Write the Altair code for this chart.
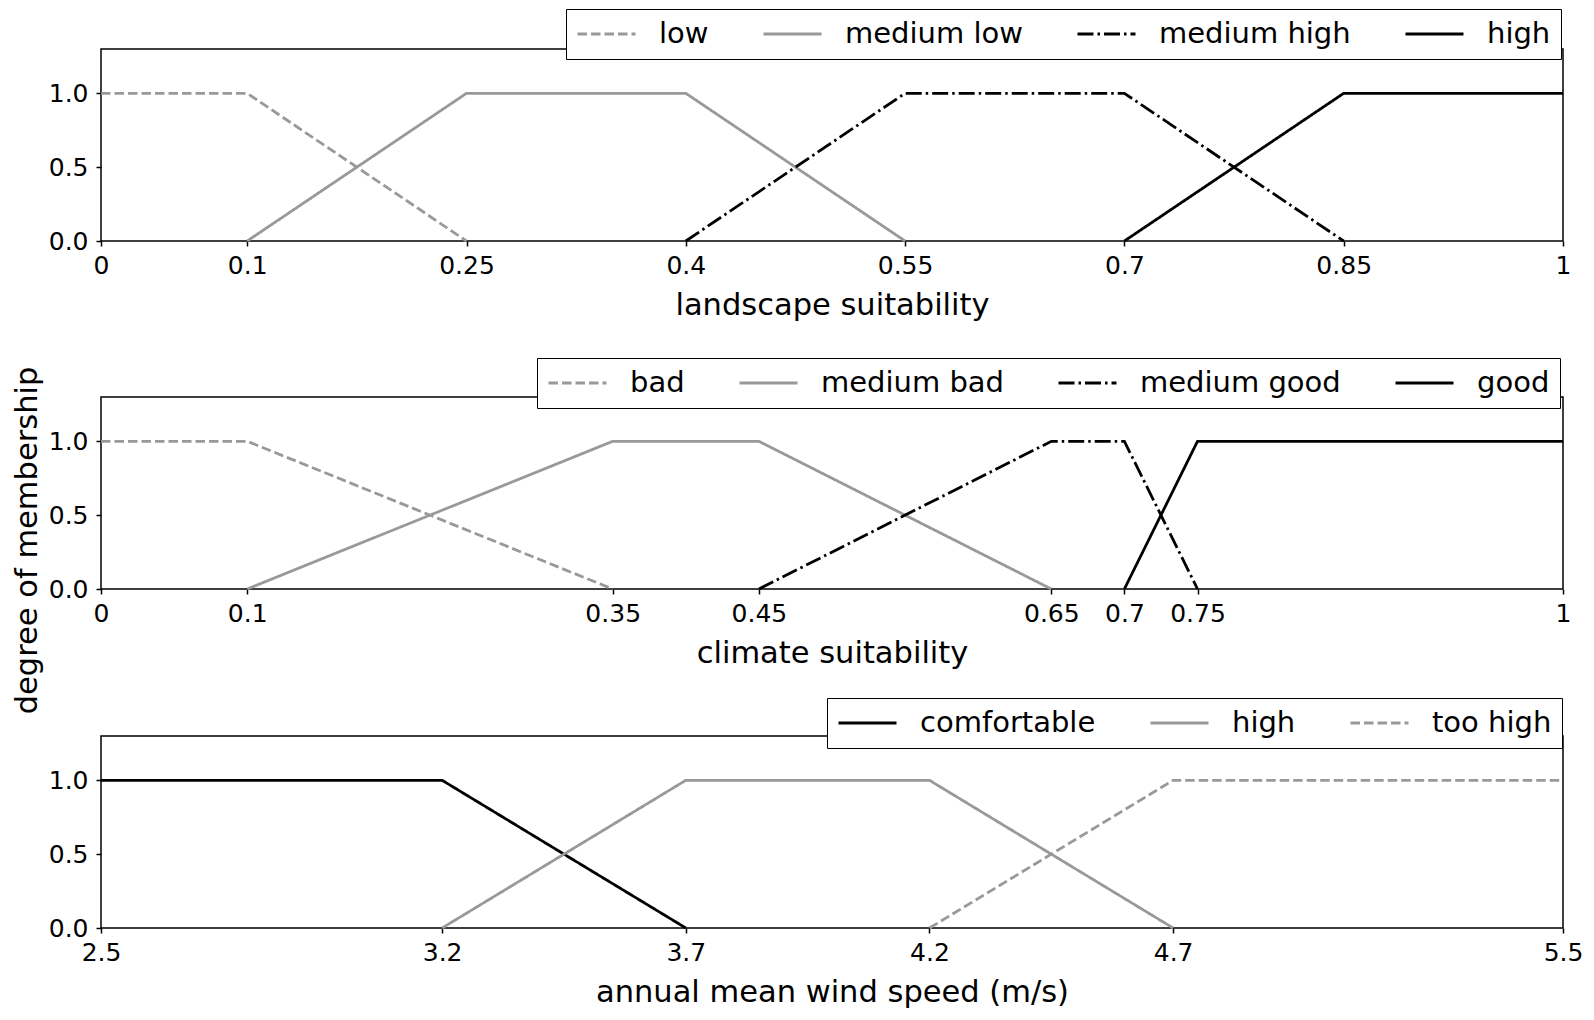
import altair as alt
import pandas as pd

FONT = "DejaVu Sans"
GRAY = "#999999"
BLACK = "#000000"
DASHED = [9.5, 4]
SOLID = [1, 0]
DASHDOT = [16, 4, 2.5, 4]

W = 1462
H = 192

# ---- panel 1: landscape suitability ----
land_names = ["low", "medium low", "medium high", "high"]
land_low_x = [0, 0.1, 0.25]
land_low_y = [1, 1, 0]
land_mlow_x = [0.1, 0.25, 0.4, 0.55]
land_mlow_y = [0, 1, 1, 0]
land_mhigh_x = [0.4, 0.55, 0.7, 0.85]
land_mhigh_y = [0, 1, 1, 0]
land_high_x = [0.7, 0.85, 1]
land_high_y = [0, 1, 1]
land_ticks = [0, 0.1, 0.25, 0.4, 0.55, 0.7, 0.85, 1]

# ---- panel 2: climate suitability ----
clim_names = ["bad", "medium bad", "medium good", "good"]
clim_bad_x = [0, 0.1, 0.35]
clim_bad_y = [1, 1, 0]
clim_mbad_x = [0.1, 0.35, 0.45, 0.65]
clim_mbad_y = [0, 1, 1, 0]
clim_mgood_x = [0.45, 0.65, 0.7, 0.75]
clim_mgood_y = [0, 1, 1, 0]
clim_good_x = [0.7, 0.75, 1]
clim_good_y = [0, 1, 1]
clim_ticks = [0, 0.1, 0.35, 0.45, 0.65, 0.7, 0.75, 1]

# ---- panel 3: annual mean wind speed ----
wind_names = ["comfortable", "high", "too high"]
wind_comf_x = [2.5, 3.2, 3.7]
wind_comf_y = [1, 1, 0]
wind_high_x = [3.2, 3.7, 4.2, 4.7]
wind_high_y = [0, 1, 1, 0]
wind_too_x = [4.2, 4.7, 5.5]
wind_too_y = [0, 1, 1]
wind_ticks = [2.5, 3.2, 3.7, 4.2, 4.7, 5.5]

y_ticks = [0, 0.5, 1.0]


def frame(name, xs, ys):
    return pd.DataFrame({"x": xs, "y": ys, "s": name})


def panel(frames, names, colors, dashes, ticks, xdomain, xtitle,
          legend_x, legend_y, ytitle=None):
    df = pd.concat(frames, ignore_index=True)
    legend = alt.Legend(
        title=None, orient="none", legendX=legend_x, legendY=legend_y,
        direction="horizontal", columns=len(names), symbolType="stroke",
        symbolSize=3364, symbolStrokeWidth=2.8, labelFontSize=29,
        labelFont=FONT, labelColor="black", labelOffset=22,
        columnPadding=53, padding=10, strokeColor="black",
        fillColor="white", labelLimit=0, clipHeight=30, cornerRadius=0,
    )
    if ytitle:
        yaxis = alt.Axis(values=y_ticks, format=".1f", title=ytitle,
                         titleX=-59, titleY=143)
    else:
        yaxis = alt.Axis(values=y_ticks, format=".1f", title=None,
                         minExtent=89)
    return alt.Chart(df).mark_line(strokeWidth=2.8).encode(
        x=alt.X("x:Q", scale=alt.Scale(domain=xdomain, nice=False, zero=False),
                axis=alt.Axis(values=ticks, format=".2~f", title=xtitle,
                              labelOverlap=False, labelFlush=False)),
        y=alt.Y("y:Q", scale=alt.Scale(domain=[0, 1.3], nice=False, zero=False),
                axis=yaxis),
        color=alt.Color("s:N", scale=alt.Scale(domain=names, range=colors),
                        legend=legend),
        strokeDash=alt.StrokeDash("s:N", scale=alt.Scale(domain=names, range=dashes),
                                  legend=legend),
    ).properties(width=W, height=H)


p1 = panel(
    [frame("low", land_low_x, land_low_y),
     frame("medium low", land_mlow_x, land_mlow_y),
     frame("medium high", land_mhigh_x, land_mhigh_y),
     frame("high", land_high_x, land_high_y)],
    land_names, [GRAY, GRAY, BLACK, BLACK], [DASHED, SOLID, DASHDOT, SOLID],
    land_ticks, [0, 1], "landscape suitability", W - 997, -40)

p2 = panel(
    [frame("bad", clim_bad_x, clim_bad_y),
     frame("medium bad", clim_mbad_x, clim_mbad_y),
     frame("medium good", clim_mgood_x, clim_mgood_y),
     frame("good", clim_good_x, clim_good_y)],
    clim_names, [GRAY, GRAY, BLACK, BLACK], [DASHED, SOLID, DASHDOT, SOLID],
    clim_ticks, [0, 1], "climate suitability", W - 1026, -39,
    ytitle="degree of membership")

p3 = panel(
    [frame("comfortable", wind_comf_x, wind_comf_y),
     frame("high", wind_high_x, wind_high_y),
     frame("too high", wind_too_x, wind_too_y)],
    wind_names, [BLACK, GRAY, GRAY], [SOLID, SOLID, DASHED],
    wind_ticks, [2.5, 5.5], "annual mean wind speed (m/s)", W - 736, -38)

inner = alt.vconcat(p1, p2, spacing=156, bounds="flush").resolve_scale(
    x="independent", y="independent", color="independent",
    strokeDash="independent").resolve_legend(color="independent",
                                             strokeDash="independent")

chart = alt.vconcat(inner, p3, spacing=-19).resolve_scale(
    x="independent", y="independent", color="independent",
    strokeDash="independent").resolve_legend(color="independent",
                                             strokeDash="independent")

chart = chart.properties(
    padding={"left": 3, "top": -1, "right": 0, "bottom": 0}
).configure_view(
    stroke="black", strokeWidth=1.5
).configure_axis(
    domain=False, grid=False, tickColor="black", tickSize=5, tickWidth=1.5,
    labelFont=FONT, labelFontSize=25, labelColor="black", labelPadding=7,
    titleFont=FONT, titleFontSize=30.5, titleFontWeight="normal",
    titleColor="black", titlePadding=12.5,
).configure_axisY(labelPadding=8)

chart.save("out.html", embed_options={"renderer": "svg", "actions": False})
